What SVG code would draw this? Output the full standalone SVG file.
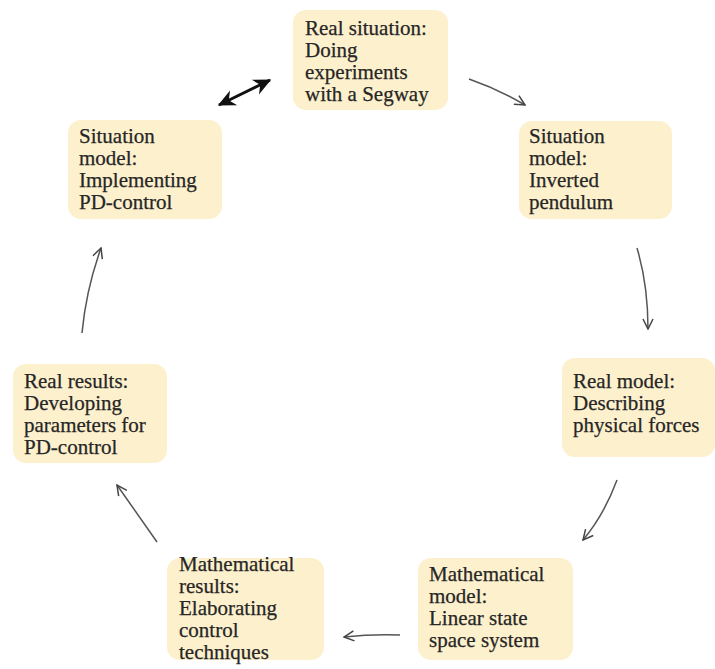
<svg xmlns="http://www.w3.org/2000/svg" width="715" height="669" viewBox="0 0 715 669">
<defs>
<style>
.box{fill:#fdf0cd;}
.t{font-family:"Liberation Serif","Times New Roman",serif;font-size:21px;fill:#262626;stroke:#262626;stroke-width:0.25;}
.c{fill:none;stroke:#555;stroke-width:1.5;}
.d{fill:none;stroke:#111;stroke-width:3;}
</style>
<marker id="ah" viewBox="0 0 12 12" refX="11" refY="6" markerWidth="12" markerHeight="12" markerUnits="userSpaceOnUse" orient="auto-start-reverse">
<path d="M1,1 L11,6 L1,11" fill="none" stroke="#444" stroke-width="1.5"/>
</marker>
<marker id="bh" viewBox="0 0 14 14" refX="12" refY="7" markerWidth="19" markerHeight="19" markerUnits="userSpaceOnUse" orient="auto-start-reverse">
<path d="M0,1 L13,7 L0,13 L4,7 Z" fill="#111"/>
</marker>
</defs>
<rect width="715" height="669" fill="#fff"/>
<g id="connectors">
<path class="d" d="M219,105 L270,80" marker-start="url(#bh)" marker-end="url(#bh)"/>
<path class="c" d="M469,79 Q498,89 525,105" marker-end="url(#ah)"/>
<path class="c" d="M637,248 Q648,285 648,329" marker-end="url(#ah)"/>
<path class="c" d="M617,480 Q604,515 583,540" marker-end="url(#ah)"/>
<path class="c" d="M400,635 Q372,634 344,637" marker-end="url(#ah)"/>
<path class="c" d="M157,542 Q138,515 117,485" marker-end="url(#ah)"/>
<path class="c" d="M82,333 Q86,290 101,248" marker-end="url(#ah)"/>
</g>
<g id="n1">
<rect class="box" x="293" y="10" width="155" height="100" rx="13"/>
<text class="t" x="305" y="35">Real situation:</text>
<text class="t" x="305" y="57">Doing</text>
<text class="t" x="305" y="79">experiments</text>
<text class="t" x="305" y="101">with a Segway</text>
</g>
<g id="n2">
<rect class="box" x="519" y="121" width="153" height="98" rx="13"/>
<text class="t" x="529" y="143">Situation</text>
<text class="t" x="529" y="165">model:</text>
<text class="t" x="529" y="187">Inverted</text>
<text class="t" x="529" y="209">pendulum</text>
</g>
<g id="n3">
<rect class="box" x="68" y="120" width="154" height="99" rx="13"/>
<text class="t" x="79" y="143">Situation</text>
<text class="t" x="79" y="165">model:</text>
<text class="t" x="79" y="187">Implementing</text>
<text class="t" x="79" y="209">PD-control</text>
</g>
<g id="n4">
<rect class="box" x="13" y="364" width="154" height="99" rx="13"/>
<text class="t" x="24" y="388">Real results:</text>
<text class="t" x="24" y="410">Developing</text>
<text class="t" x="24" y="432">parameters for</text>
<text class="t" x="24" y="454">PD-control</text>
</g>
<g id="n5">
<rect class="box" x="167" y="558" width="157" height="102" rx="13"/>
<text class="t" x="179" y="571">Mathematical</text>
<text class="t" x="179" y="593">results:</text>
<text class="t" x="179" y="615">Elaborating</text>
<text class="t" x="179" y="637">control</text>
<text class="t" x="179" y="659">techniques</text>
</g>
<g id="n6">
<rect class="box" x="418" y="558" width="155" height="102" rx="13"/>
<text class="t" x="429" y="581">Mathematical</text>
<text class="t" x="429" y="603">model:</text>
<text class="t" x="429" y="625">Linear state</text>
<text class="t" x="429" y="647">space system</text>
</g>
<g id="n7">
<rect class="box" x="562" y="358" width="153" height="99" rx="13"/>
<text class="t" x="573" y="388">Real model:</text>
<text class="t" x="573" y="410">Describing</text>
<text class="t" x="573" y="432">physical forces</text>
</g>
</svg>
